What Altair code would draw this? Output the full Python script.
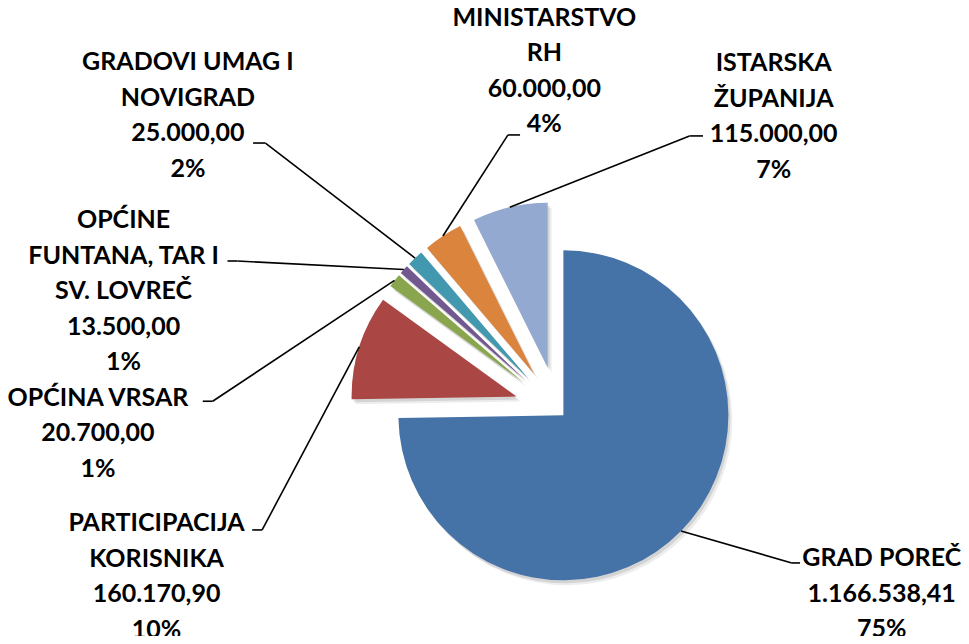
import altair as alt
import pandas as pd

# ---- data ----
categories = [
    "GRAD POREČ",
    "PARTICIPACIJA\nKORISNIKA",
    "OPĆINA VRSAR",
    "OPĆINE\nFUNTANA, TAR I\nSV. LOVREČ",
    "GRADOVI UMAG I\nNOVIGRAD",
    "MINISTARSTVO\nRH",
    "ISTARSKA\nŽUPANIJA",
]
values = [1166538.41, 160170.90, 20700.00, 13500.00, 25000.00, 60000.00, 115000.00]

# ---- styles / layout (in pie-radius units, relative to pie centre) ----
colors = ["#4572A7", "#AA4643", "#89A54E", "#71588F", "#4198AF", "#DB843D", "#93A9CF"]
explode = [0.05, 0.26, 0.26, 0.26, 0.26, 0.26, 0.26]
label_x = [1.965, -2.43, -2.785, -2.63, -2.24, -0.08, 1.31]
label_y = [-0.90, -0.688, 0.07, 1.148, 2.106, 2.373, 2.10]   # first text line
elbow_x = [1.42, -1.79, -2.09, -1.94, -1.77, -0.30, 0.80]
elbow_y = [-0.93, -0.73, 0.05, 0.90, 1.615, 1.664, 1.658]
end_x = [1.47, -1.85, -2.15, -2.00, -1.845, -0.227, 0.882]

W, H = 953, 628
R = 165.0
PCX, PCY = 549.5, 401.5  # pie centre within the plot area

def hr(v):
    s = f"{v:,.2f}"
    return s.replace(",", "X").replace(".", ",").replace("X", ".")

df = pd.DataFrame({
    "order": list(range(len(categories))),
    "cat": categories,
    "value": values,
    "amount": [hr(v) for v in values],
    "explode": explode,
    "lx": label_x, "ly": label_y,
    "ex": elbow_x, "ey": elbow_y, "hx": end_x,
})

xs = alt.Scale(domain=[-PCX / R, (W - PCX) / R])
ys = alt.Scale(domain=[-(H - PCY) / R, PCY / R])

base = (
    alt.Chart(df)
    .transform_joinaggregate(total="sum(value)")
    .transform_window(cum="sum(value)", sort=[{"field": "order"}], frame=[None, 0])
    .transform_calculate(
        t0="(datum.cum - datum.value) / datum.total * 2 * PI",
        t1="datum.cum / datum.total * 2 * PI",
    )
    .transform_calculate(mid="(datum.t0 + datum.t1) / 2")
    .transform_calculate(
        cx="datum.explode * sin(datum.mid)",
        cy="datum.explode * cos(datum.mid)",
    )
    .transform_calculate(
        sx="datum.cx + sin(datum.mid)",
        sy="datum.cy + cos(datum.mid)",
        label="datum.cat + '\\n' + datum.amount + '\\n' + round(datum.value / datum.total * 100) + '%'",
    )
)

X = alt.X("cx:Q", scale=xs, axis=None)
Y = alt.Y("cy:Q", scale=ys, axis=None)
TH = alt.Theta("t0:Q", scale=None)
TH2 = alt.Theta2("t1:Q")

shadow1 = base.mark_arc(radius=R, color="#000000", opacity=0.10, xOffset=2, yOffset=3).encode(
    x=X, y=Y, theta=TH, theta2=TH2)
shadow2 = base.mark_arc(radius=R, color="#000000", opacity=0.07, xOffset=4, yOffset=5).encode(
    x=X, y=Y, theta=TH, theta2=TH2)

slices = base.mark_arc(radius=R, strokeWidth=0).encode(
    x=X, y=Y, theta=TH, theta2=TH2,
    color=alt.Color("cat:N", scale=alt.Scale(domain=categories, range=colors), legend=None),
)

lead1 = base.mark_rule(color="black", strokeWidth=1.6).encode(
    x=alt.X("sx:Q", scale=xs, axis=None), y=alt.Y("sy:Q", scale=ys, axis=None),
    x2="ex:Q", y2="ey:Q",
)
lead2 = base.mark_rule(color="black", strokeWidth=1.6).encode(
    x=alt.X("ex:Q", scale=xs, axis=None), y=alt.Y("ey:Q", scale=ys, axis=None),
    x2="hx:Q", y2="ey:Q",
)

labels = base.mark_text(
    font="Lato", fontWeight="bold", fontSize=25, lineHeight=35.5,
    align="center", baseline="middle", lineBreak="\n", color="black",
).encode(
    x=alt.X("lx:Q", scale=xs, axis=None), y=alt.Y("ly:Q", scale=ys, axis=None),
    text="label:N",
)

chart = (
    alt.layer(shadow2, shadow1, slices, lead1, lead2, labels)
    .properties(width=W, height=H, padding=0, autosize="none", background="white")
    .configure_view(stroke=None)
)

chart.save("out.html", embed_options={"renderer": "svg", "actions": False})
